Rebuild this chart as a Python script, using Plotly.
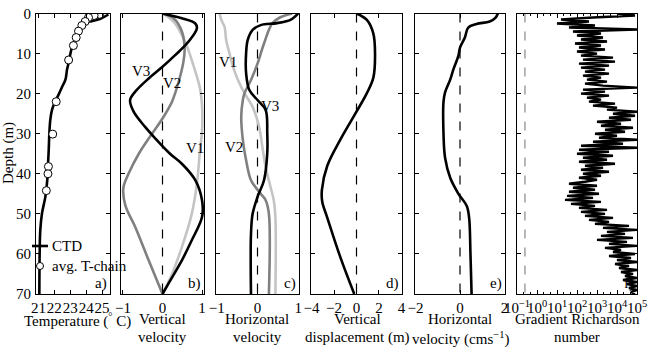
import numpy as np
import plotly.graph_objects as go

W, H = 650, 352
FONT = "Liberation Serif, Times New Roman, Tinos, DejaVu Serif, serif"
TICK_SIZE = 15
TEXT_SIZE = 15

# ---------------- data ----------------
ctd_depth = [0.25, 1.3, 1.9, 2.3, 3.2, 4.8, 6.9, 8.6, 10.25, 12.3, 14, 16.5, 18.2, 20.25,
             21.9, 24, 26.5, 29.8, 34, 38, 41, 45.7, 49.8, 54, 59.8, 70]
ctd_temp = [25.4, 24.9, 24.35, 23.8, 23.6, 23.4, 23.25, 23.1, 23.0, 22.9, 22.8, 22.7, 22.5, 22.27,
            22.06, 21.86, 21.75, 21.69, 21.65, 21.6, 21.57, 21.44, 21.23, 21.12, 21.08, 21.06]

tchain_depth = [0.2, 0.5, 1.0, 2.0, 3.0, 4.4, 6.0, 8.0, 11.6, 22.0, 30.1, 38.2, 40.0, 44.2]
tchain_temp = [24.85, 24.5, 24.15, 23.94, 23.73, 23.52, 23.375, 23.2, 22.9, 22.12, 21.9, 21.63, 21.6, 21.5]

# vertical velocity modes (panel b)
w1_depth = [0, 2, 7, 12.9, 18.7, 22.9, 29.5, 34, 42.5, 50, 58.3, 65, 70]
w1_val = [0, 0.28, 0.57, 0.78, 0.95, 1.0, 1.0, 0.95, 0.87, 0.74, 0.49, 0.24, 0]
w2_depth = [0, 1.2, 4.5, 8.7, 12, 17, 22, 26.2, 31.2, 35, 40, 43.5, 47.9, 53.3, 61.6, 70]
w2_val = [0, 0.28, 0.49, 0.56, 0.53, 0.41, 0.24, 0, -0.35, -0.6, -0.86, -0.99, -0.94, -0.69, -0.35, 0]
w3_depth = [0, 1.2, 2.5, 3.7, 7, 10.4, 13.3, 16.2, 19.5, 21.6, 24.5, 28.3, 31.2, 35, 37.5,
            41.6, 46.6, 50.8, 56.6, 61.6, 67.4, 70]
w3_val = [0, 0.49, 0.83, 0.87, 0.66, 0.32, 0, -0.35, -0.69, -0.82, -0.73, -0.44, -0.18, 0.19, 0.49,
          0.83, 1.0, 1.0, 0.74, 0.49, 0.15, 0]

# horizontal velocity modes (panel c)
u1_depth = [0, 1.6, 3.3, 6.6, 9.9, 13.3, 16.6, 19.9, 23.3, 28.3, 33.3, 38.3, 43.3, 46.6, 50.8, 70]
u1_val = [-0.93, -0.89, -0.81, -0.77, -0.69, -0.6, -0.48, -0.32, -0.12, 0.04, 0.12, 0.2, 0.32, 0.4, 0.44, 0.44]
u2_depth = [0, 1, 2.5, 7.5, 12.5, 16.6, 19.9, 21.6, 25.8, 31.6, 36.6, 41.6, 45, 46.6, 50, 70]
u2_val = [0.85, 0.55, 0.36, 0.16, 0, -0.16, -0.32, -0.36, -0.4, -0.36, -0.28, -0.16, 0.08, 0.2, 0.28, 0.28]
u3_depth = [0, 1.6, 2.4, 2.9, 4.1, 6.6, 9.9, 14.9, 19.1, 21.6, 24.1, 29.9, 34.9, 41.6, 45.8, 50, 55, 70]
u3_val = [1.0, 0.81, 0.48, 0.08, -0.12, -0.24, -0.28, -0.28, -0.2, 0, 0.2, 0.24, 0.24, 0.16, 0, -0.12, -0.16, -0.16]

# vertical displacement (panel d)
disp_depth = [0, 1.6, 5, 10, 16, 20, 24.5, 31.5, 38, 44, 47, 50.8, 60.8, 70]
disp_val = [0, 0.92, 1.5, 1.65, 1.5, 0.9, 0, -1.44, -2.6, -3.08, -3.05, -2.62, -1.44, -0.2]

# horizontal velocity (panel e)
hv_depth = [0, 1, 2, 2.6, 3.5, 6, 8.5, 10.5, 14, 16.5, 19.7, 22, 30, 36, 41, 45, 48, 51, 60, 70]
hv_val = [1.7, 1.6, 1.33, 0.74, 0.37, 0.22, 0, -0.07, -0.3, -0.44, -0.67, -0.74, -0.74, -0.67,
          -0.44, -0.07, 0.3, 0.41, 0.47, 0.52]

# gradient Richardson number (panel f), log10 values every 0.5 m from 0 to 70 m
ri_log10 = [
    4.0, 4.9, 2.8, 1.2, 2.6, 1.0, 2.9, 1.6, 5.0, 1.8,
    3.2, 2.0, 3.3, 2.2, 3.5, 1.9, 3.2, 2.1, 3.4, 2.0,
    3.0, 2.2, 3.8, 2.3, 3.9, 2.1, 3.6, 2.2, 3.4, 2.4,
    3.6, 2.3, 3.2, 2.5, 3.5, 2.4, 3.3, 5.0, 2.3, 3.4,
    2.2, 3.6, 2.5, 3.2, 2.6, 3.9, 2.8, 4.0, 3.5, 5.0,
    3.8, 4.9, 3.6, 4.7, 3.0, 4.2, 3.2, 4.8, 3.4, 4.4,
    2.9, 4.0, 3.1, 5.0, 2.8, 4.3, 2.2, 5.0, 2.1, 3.6,
    2.0, 3.8, 2.3, 3.5, 2.1, 3.9, 2.4, 3.3, 2.2, 3.6,
    2.3, 3.2, 2.1, 3.0, 2.4, 1.6, 3.0, 1.8, 2.9, 1.6,
    3.1, 1.5, 2.8, 1.4, 3.2, 1.7, 2.9, 2.1, 3.5, 2.2,
    3.4, 2.4, 3.8, 2.6, 3.6, 2.9, 4.6, 3.3, 5.0, 3.5,
    4.4, 3.2, 4.8, 3.0, 4.5, 3.6, 5.0, 3.4, 4.2, 3.8,
    4.9, 3.6, 4.7, 4.0, 5.0, 3.9, 4.6, 4.1, 5.0, 4.2,
    4.8, 4.4, 5.0, 4.3, 5.0, 4.5, 5.0, 4.6, 5.0, 4.7,
    4.9]
ri_depth = list(np.arange(0, 70.01, 0.5))
ri_val = [10 ** v for v in ri_log10]
RI_CRIT = 0.25

# ---------------- layout helpers ----------------
TOP, BOT = 13.5, 294.0
panels = [(36, 110), (121, 204), (216, 299), (311, 402), (415, 505), (517, 637)]
ydom = [1 - BOT / H, 1 - TOP / H]

def px(x):
    return x / W

def py(y):
    return 1 - y / H

fig = go.Figure()

BLACK = "#000000"
MID = "#808080"
LIGHT = "#c4c4c4"
LW = 2.6

def add(x, y, i, color=BLACK, width=LW, dash=None, mode="lines", shape="linear", marker=None):
    ax = "" if i == 1 else str(i)
    kw = dict(x=x, y=y, xaxis="x" + ax, yaxis="y" + ax, mode=mode, showlegend=False,
              hoverinfo="skip")
    if "lines" in mode:
        kw["line"] = dict(color=color, width=width, dash=dash, shape=shape)
    if marker:
        kw["marker"] = marker
    fig.add_trace(go.Scatter(**kw))

# panel a
add(ctd_temp, ctd_depth, 1, shape="spline")
add(tchain_temp, tchain_depth, 1, mode="markers",
    marker=dict(symbol="circle", size=8, color="white", line=dict(color=BLACK, width=1)))

# panel b
add([0, 0], [0, 70], 2, width=1.2, dash="dash")
add(w1_val, w1_depth, 2, color=LIGHT, shape="spline")
add(w2_val, w2_depth, 2, color=MID, shape="spline")
add(w3_val, w3_depth, 2, color=BLACK, shape="spline")

# panel c
add([0, 0], [0, 70], 3, width=1.2, dash="dash")
add(u1_val, u1_depth, 3, color=LIGHT, shape="spline")
add(u2_val, u2_depth, 3, color=MID, shape="spline")
add(u3_val, u3_depth, 3, color=BLACK, shape="spline")

# panel d
add([0, 0], [0, 70], 4, width=1.2, dash="dash")
add(disp_val, disp_depth, 4, shape="spline")

# panel e
add([0, 0], [0, 70], 5, width=1.2, dash="dash")
add(hv_val, hv_depth, 5, shape="spline")

# panel f
add([RI_CRIT, RI_CRIT], [0, 70], 6, color="#707070", width=1, dash="dash")
add(ri_val, ri_depth, 6, width=2.4)

tickfont = dict(family=FONT, size=TICK_SIZE, color=BLACK)
common_axis = dict(showline=True, linecolor=BLACK, linewidth=1, mirror="ticks",
                   ticks="inside", ticklen=4, tickcolor=BLACK, showgrid=False,
                   zeroline=False, tickfont=tickfont, automargin=False, tickangle=0)

xranges = [[20.85, 25.5], [-1.05, 1.05], [-1.02, 1.02], [-4.05, 4.05], [-2.02, 2.02], None]
xticks = [
    ([21, 22, 23, 24, 25], ["21", "22", "23", "24", "25"]),
    ([-1, 0, 1], ["\u22121", "0", "1"]),
    ([-1, 0, 1], ["\u22121", "0", "1"]),
    ([-4, -2, 0, 2, 4], ["\u22124", "\u22122", "0", "2", "4"]),
    ([-2, 0, 2], ["\u22122", "0", "2"]),
    ([0.1, 1, 10, 100, 1000, 1e4, 1e5],
     ["10<sup>\u22121</sup>", "10<sup>0</sup>", "10<sup>1</sup>", "10<sup>2</sup>",
      "10<sup>3</sup>", "10<sup>4</sup>", "10<sup>5</sup>"]),
]

layout = dict(width=W, height=H, margin=dict(l=0, r=0, t=0, b=0, autoexpand=False),
              paper_bgcolor="white", plot_bgcolor="white",
              font=dict(family=FONT, size=TICK_SIZE, color=BLACK))

for i, (x0, x1) in enumerate(panels, start=1):
    ax = "" if i == 1 else str(i)
    xa = dict(common_axis, domain=[px(x0), px(x1)], anchor="y" + ax,
              tickvals=xticks[i - 1][0], ticktext=xticks[i - 1][1], ticklabelstandoff=0)
    if i == 6:
        xa.update(type="log", range=[-1, 5],
                  minor=dict(ticks="inside", ticklen=2, tickcolor=BLACK, showgrid=False))
    else:
        xa.update(range=xranges[i - 1])
    ya = dict(common_axis, domain=ydom, anchor="x" + ax, range=[70, 0],
              tickvals=[0, 10, 20, 30, 40, 50, 60, 70], showticklabels=(i == 1),
              ticklabelstandoff=1)
    layout["xaxis" + ax] = xa
    layout["yaxis" + ax] = ya

annotations = []

def text(x, y, s, xanchor="center", size=TEXT_SIZE, **kw):
    annotations.append(dict(x=px(x), y=py(y), xref="paper", yref="paper", text=s,
                            showarrow=False, xanchor=xanchor, yanchor="middle",
                            font=dict(family=FONT, size=size, color=BLACK), **kw))

# axis titles
text(9, 153, "Depth (m)", textangle=-90)
text(77, 320, "Temperature (<sup>\u00b0</sup> C)")
text(162, 319, "Vertical")
text(162, 337, "velocity")
text(257, 319, "Horizontal")
text(257, 337, "velocity")
text(357, 319, "Vertical")
text(357, 337, "displacement (m)")
text(460, 319, "Horizontal")
text(460, 338, "velocity (cms<sup>\u22121</sup>)")
text(577, 319, "Gradient Richardson")
text(577, 337, "number")

# panel letters
for lab, xr in zip(["a)", "b)", "c)", "d)", "e)", "f)"], [p[1] for p in panels]):
    text(xr - 1, 283, lab, xanchor="right")

# mode labels
text(141, 71, "V3")
text(172, 83, "V2")
text(195, 148, "V1")
text(228, 62, "V1")
text(270, 106, "V3")
text(234, 147, "V2")

# panel a legend
text(50, 246, "CTD", xanchor="left")
text(50, 266, "avg. T-chain", xanchor="left")

shapes = [
    dict(type="line", xref="paper", yref="paper", x0=px(32), x1=px(48), y0=py(246), y1=py(246),
         line=dict(color=BLACK, width=2.6)),
    dict(type="circle", xref="paper", yref="paper", x0=px(36.5), x1=px(43.5), y0=py(262.5), y1=py(269.5),
         fillcolor="white", line=dict(color=BLACK, width=1)),
]

layout["annotations"] = annotations
layout["shapes"] = shapes
fig.update_layout(**layout)
fig.write_html("out.html", config={"displayModeBar": False, "staticPlot": True},
               post_script="document.body.style.margin='0';document.body.style.padding='0';")
